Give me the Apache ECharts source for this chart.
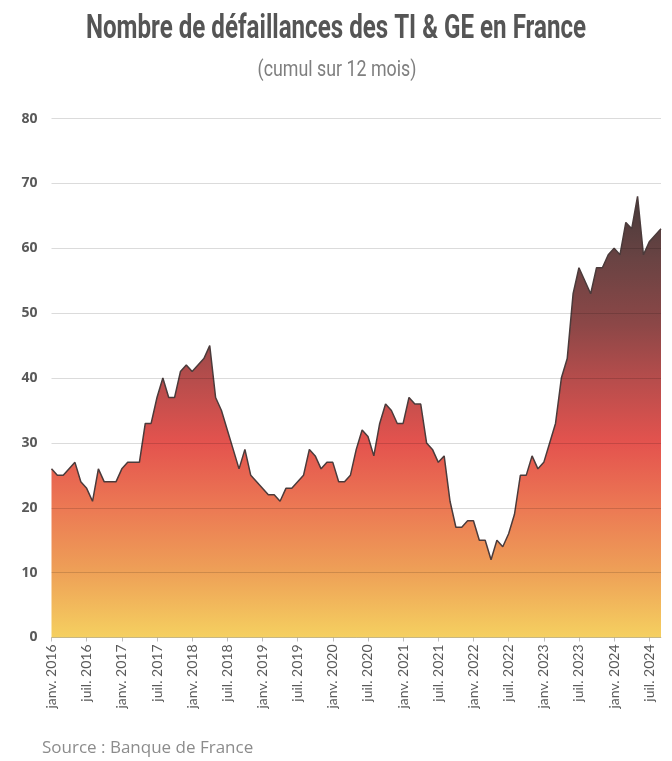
<!DOCTYPE html>
<html>
<head>
<meta charset="utf-8">
<script src="https://cdn.jsdelivr.net/npm/echarts@6/dist/echarts.min.js"></script>
<style>
html,body{margin:0;padding:0;background:#ffffff;}
#chart{width:672px;height:761px;}
</style>
</head>
<body>
<div id="chart"></div>
<script>
// Monthly values, janv. 2016 -> sept. 2024
const months = ['janv.','févr.','mars','avr.','mai','juin','juil.','août','sept.','oct.','nov.','déc.'];
const years = [2016,2017,2018,2019,2020,2021,2022,2023,2024];
const v2016 = [26,25,25,26,27,24,23,21,26,24,24,24];
const v2017 = [26,27,27,27,33,33,37,40,37,37,41,42];
const v2018 = [41,42,43,45,37,35,32,29,26,29,25,24];
const v2019 = [23,22,22,21,23,23,24,25,29,28,26,27];
const v2020 = [27,24,24,25,29,32,31,28,33,36,35,33];
const v2021 = [33,37,36,36,30,29,27,28,21,17,17,18];
const v2022 = [18,15,15,12,15,14,16,19,25,25,28,26];
const v2023 = [27,30,33,40,43,53,57,55,53,57,57,59];
const v2024 = [60,59,64,63,68,59,61,62,63];
const yTicks = [0,10,20,30,40,50,60,70,80];

const titleText = 'Nombre de défaillances des TI & GE en France';
const subtitleText = '(cumul sur 12 mois)';
const sourceText = 'Source : Banque de France';

const values = [].concat(v2016,v2017,v2018,v2019,v2020,v2021,v2022,v2023,v2024);
const categories = values.map((_, i) => months[i % 12] + ' ' + years[Math.floor(i / 12)]);

const chart = echarts.init(document.getElementById('chart'), null, {renderer:'canvas'});
chart.setOption({
  backgroundColor: '#ffffff',
  animation: false,
  grid: {left: 51.5, right: 11, top: 118.6, bottom: 123.5, containLabel: false},
  graphic: [
    {type:'text', x:336, y:29, scaleX:0.71,
     style:{text:titleText, fontFamily:'Roboto', fontSize:34, fontWeight:'bold', fill:'#555555', align:'center', verticalAlign:'middle'}},
    {type:'text', x:337, y:70, scaleX:0.81,
     style:{text:subtitleText, fontFamily:'Roboto', fontSize:22, fontWeight:'normal', fill:'#7f7f7f', align:'center', verticalAlign:'middle'}},
    {type:'text', x:42, y:748,
     style:{text:sourceText, fontFamily:'Open Sans', fontSize:17, fill:'#8c8c8c', align:'left', verticalAlign:'middle'}}
  ],
  xAxis: {
    type: 'category',
    data: categories,
    boundaryGap: false,
    axisLine: {lineStyle: {color: '#d9d9d9', width: 1}},
    axisTick: {show: true, interval: 5, length: 4, lineStyle: {color: '#bfbfbf'}},
    axisLabel: {
      interval: 5, rotate: 90, margin: 7,
      color: '#595959', fontFamily: 'Lato', fontSize: 14
    },
    splitLine: {show: false}
  },
  yAxis: {
    type: 'value',
    z: 3,
    min: yTicks[0], max: yTicks[yTicks.length - 1], interval: 10,
    axisLine: {show: false},
    axisTick: {show: false},
    axisLabel: {color: '#595959', fontFamily: 'Open Sans', fontWeight: 'bold', fontSize: 14, margin: 14},
    splitLine: {lineStyle: {color: 'rgba(0,0,0,0.14)', width: 1}}
  },
  series: [{
    type: 'line',
    z: 2,
    data: values,
    symbol: 'none',
    lineStyle: {color: '#4b3b3b', width: 1.5},
    areaStyle: {
      opacity: 1,
      color: new echarts.graphic.LinearGradient(0, 0, 0, 1, [
        {offset: 0.00, color: '#463a3a'},
        {offset: 0.14, color: '#694343'},
        {offset: 0.29, color: '#8c4747'},
        {offset: 0.42, color: '#b84d4c'},
        {offset: 0.56, color: '#e4534e'},
        {offset: 0.71, color: '#ec7a54'},
        {offset: 0.85, color: '#eea057'},
        {offset: 1.00, color: '#f5d060'}
      ])
    }
  }]
});
</script>
</body>
</html>
